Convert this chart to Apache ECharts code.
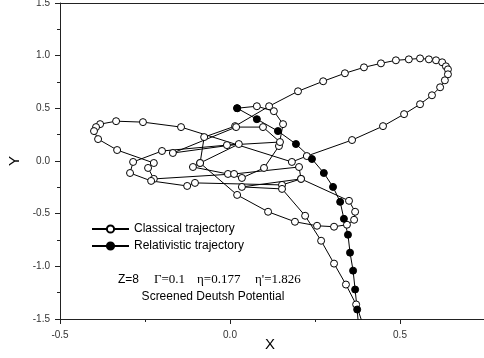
<!DOCTYPE html>
<html>
<head>
<meta charset="utf-8">
<script src="https://cdn.jsdelivr.net/npm/echarts@6/dist/echarts.min.js"></script>
<style>
    html, body { margin: 0; padding: 0; background: #fff; }
    #chart { width: 484px; height: 358px; }
</style>
</head>
<body>
<div id="chart"></div>
<script>
// classical trajectory
var classicalX = [0.021, 0.079, 0.129, 0.156, 0.144, 0.100, 0.035, -0.006, -0.109, -0.088,
    -0.076, 0.015, 0.115, 0.200, 0.274, 0.338, 0.394, 0.444, 0.488, 0.526,
    0.559, 0.585, 0.606, 0.624, 0.635, 0.641, 0.641, 0.632, 0.618, 0.594,
    0.559, 0.512, 0.450, 0.359, 0.226, 0.182, -0.144, -0.256, -0.335, -0.382,
    -0.394, -0.400, -0.388, -0.332, -0.224, -0.241, -0.224, 0.012, 0.203, 0.209,
    0.153, -0.103, -0.126, -0.232, -0.294, -0.285, -0.200, -0.009, 0.147, 0.097,
    0.018, -0.168, 0.026, -0.088, 0.021, 0.112, 0.191, 0.256, 0.306, 0.344,
    0.365, 0.368, 0.350, 0.209, 0.035, 0.153, 0.221, 0.268, 0.306, 0.341,
    0.371, 0.391];
var classicalY = [0.501, 0.520, 0.473, 0.350, 0.142, -0.066, -0.161, -0.123, -0.057, -0.019,
    0.227, 0.331, 0.520, 0.662, 0.757, 0.833, 0.889, 0.927, 0.956, 0.965,
    0.974, 0.965, 0.956, 0.937, 0.899, 0.870, 0.823, 0.766, 0.700, 0.624,
    0.539, 0.445, 0.331, 0.199, 0.047, -0.009, 0.322, 0.369, 0.378, 0.350,
    0.322, 0.284, 0.208, 0.104, -0.019, -0.066, -0.170, -0.123, -0.057, -0.170,
    -0.227, -0.208, -0.237, -0.189, -0.114, -0.009, 0.095, 0.151, 0.180, 0.322,
    0.322, 0.076, 0.161, -0.019, -0.322, -0.482, -0.577, -0.615, -0.624, -0.605,
    -0.558, -0.482, -0.378, -0.170, -0.246, -0.265, -0.520, -0.757, -0.974, -1.173,
    -1.362, -1.552];

// relativistic trajectory
var relativisticX = [0.021, 0.079, 0.141, 0.194, 0.241, 0.276, 0.303, 0.324, 0.335, 0.347,
    0.353, 0.362, 0.368, 0.374, 0.379];
var relativisticY = [0.501, 0.397, 0.284, 0.161, 0.019, -0.114, -0.246, -0.388, -0.549, -0.700,
    -0.870, -1.041, -1.220, -1.410, -1.599];

var seriesNames = ['Classical trajectory', 'Relativistic trajectory'];

function zip(xs, ys) {
    var out = [];
    for (var i = 0; i < xs.length; i++) {
        out.push([xs[i], ys[i]]);
    }
    return out;
}

var axisColor = '#222';
var chart = echarts.init(document.getElementById('chart'));

var option = {
    animation: false,
    // plot runs past the right edge of the picture, as in the reference
    grid: {left: 60, top: 3, bottom: 39, right: -86, containLabel: false, outerBoundsMode: 'none'},
    xAxis: [{
        type: 'value',
        min: -0.5,
        max: 1.0,
        interval: 0.5,
        axisLine: {onZero: false, lineStyle: {color: axisColor, width: 1}},
        axisTick: {length: 5, lineStyle: {color: axisColor}},
        minorTick: {show: true, splitNumber: 2, length: 3, lineStyle: {color: axisColor}},
        splitLine: {show: false},
        axisLabel: {
            fontSize: 10, color: '#333', margin: 11, fontFamily: 'Liberation Sans',
            formatter: function (v) { return v.toFixed(1); }
        }
    }, {
        type: 'value',
        position: 'top',
        min: -0.5,
        max: 1.0,
        axisLine: {onZero: false, lineStyle: {color: axisColor, width: 1}},
        axisTick: {show: false},
        axisLabel: {show: false},
        splitLine: {show: false}
    }],
    yAxis: {
        type: 'value',
        min: -1.5,
        max: 1.5,
        interval: 0.5,
        name: 'Y',
        nameLocation: 'middle',
        nameGap: 34,
        nameRotate: 90,
        nameTextStyle: {fontSize: 15, color: '#000', fontFamily: 'Liberation Sans'},
        axisLine: {onZero: false, lineStyle: {color: axisColor, width: 1}},
        axisTick: {length: 5, lineStyle: {color: axisColor}},
        minorTick: {show: true, splitNumber: 2, length: 3, lineStyle: {color: axisColor}},
        splitLine: {show: false},
        axisLabel: {
            fontSize: 10, color: '#333', margin: 10, fontFamily: 'Liberation Sans',
            formatter: function (v) { return v.toFixed(1); }
        }
    },
    legend: {
        left: 86,
        top: 218,
        orient: 'vertical',
        itemWidth: 37,
        itemHeight: 9,
        itemGap: 5,
        selectedMode: false,
        textStyle: {fontSize: 12, color: '#000', fontFamily: 'Liberation Sans'},
        data: seriesNames
    },
    graphic: [
        {type: 'text', x: 118, y: 280, style: {text: 'Z=8', font: '12px "Liberation Sans"', fill: '#000', verticalAlign: 'middle'}},
        {type: 'text', x: 154, y: 280, style: {text: 'Γ=0.1', font: '13px "Liberation Serif"', fill: '#000', verticalAlign: 'middle'}},
        {type: 'text', x: 197, y: 280, style: {text: 'η=0.177', font: '13px "Liberation Serif"', fill: '#000', verticalAlign: 'middle'}},
        {type: 'text', x: 255, y: 280, style: {text: "η'=1.826", font: '13px "Liberation Serif"', fill: '#000', verticalAlign: 'middle'}},
        {type: 'text', x: 213, y: 297, style: {text: 'Screened Deutsh Potential', font: '12px "Liberation Sans"', fill: '#000', align: 'center', verticalAlign: 'middle'}},
        {type: 'text', x: 270, y: 345, style: {text: 'X', font: '15px "Liberation Sans"', fill: '#000', align: 'center', verticalAlign: 'middle'}}
    ],
    series: [
        {
            name: seriesNames[0],
            type: 'line',
            data: zip(classicalX, classicalY),
            symbol: 'circle',
            symbolSize: 7,
            showAllSymbol: true,
            lineStyle: {color: '#000', width: 1},
            itemStyle: {color: '#fff', borderColor: '#000', borderWidth: 1}
        },
        {
            name: seriesNames[1],
            type: 'line',
            data: zip(relativisticX, relativisticY),
            symbol: 'circle',
            symbolSize: 7,
            showAllSymbol: true,
            lineStyle: {color: '#000', width: 1},
            itemStyle: {color: '#000', borderColor: '#000', borderWidth: 1}
        }
    ]
};
chart.setOption(option);
</script>
</body>
</html>
